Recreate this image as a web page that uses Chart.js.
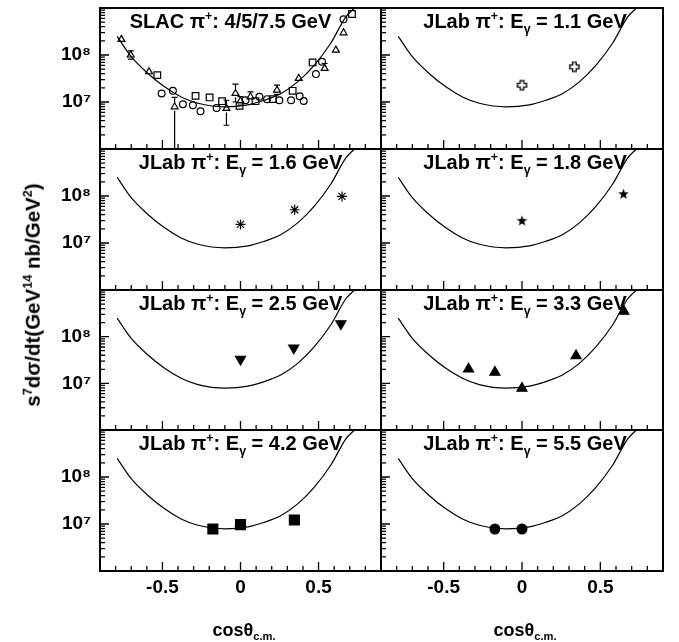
<!DOCTYPE html>
<html><head><meta charset="utf-8">
<script src="https://cdn.jsdelivr.net/npm/chart.js@4"></script>
<style>
body{margin:0;background:#fff;}
#wrap{position:relative;width:679px;height:642px;overflow:hidden;font-family:"Liberation Sans",Arial,sans-serif;font-weight:bold;color:#000;}
#wrap canvas{position:absolute;left:0;top:0;}
.t{position:absolute;white-space:nowrap;line-height:1;}
.sup{font-size:0.62em;position:relative;top:-0.62em;}
.sub{font-size:0.62em;position:relative;top:0.4em;}
</style></head><body><div id="wrap"></div>
<script>
// ---------- axes ----------
const xRange = [-0.9, 0.9];
const yRange = [1e6, 1e9];
const xTickLabels = [-0.5, 0, 0.5];
const xMinorTicks = [-0.8,-0.7,-0.6,-0.4,-0.3,-0.2,-0.1,0.1,0.2,0.3,0.4,0.6,0.7,0.8];
const yTickLabels = [1e7, 1e8];
const yMajorTicks = [1e6, 1e7, 1e8, 1e9];
const yMinorTicks = [2e6,3e6,4e6,5e6,6e6,7e6,8e6,9e6,2e7,3e7,4e7,5e7,6e7,7e7,8e7,9e7,2e8,3e8,4e8,5e8,6e8,7e8,8e8,9e8];

// ---------- fit curve ----------
const curveX = [-0.79, -0.70, -0.593, -0.486, -0.38, -0.273, -0.10, 0.047, 0.153, 0.26, 0.366, 0.473, 0.579, 0.675, 0.73];
const curveY = [2.5e8, 9.2e7, 4.05e7, 2.1e7, 1.28e7, 9.4e6, 7.9e6, 8.7e6, 1.09e7, 1.52e7, 2.68e7, 6.1e7, 1.8e8, 6.5e8, 1.0e9];

// ---------- SLAC data ----------
const slacTriX = [-0.763, -0.703, -0.586, -0.422, -0.09, -0.032, 0.0, 0.064, 0.234, 0.373, 0.539, 0.611, 0.66];
const slacTriY = [2.15e8, 1.0e8, 4.4e7, 7.9e6, 7.3e6, 1.52e7, 1.05e7, 1.29e7, 1.79e7, 3.17e7, 5.2e7, 1.27e8, 2.97e8];
const slacTriErrLo = [1.9e8, 8.2e7, 3.8e7, 9e5, 3.2e6, 1.0e7, 8.6e6, 1.07e7, 1.45e7, null, 4.4e7, null, null];
const slacTriErrHi = [2.45e8, 1.22e8, 5.1e7, 1.25e7, 1.09e7, 2.4e7, 1.3e7, 1.64e7, 2.28e7, null, 6.6e7, null, null];
const slacSqX = [-0.533, -0.288, -0.198, -0.118, -0.006, 0.096, 0.207, 0.334, 0.462, 0.714];
const slacSqY = [3.73e7, 1.35e7, 1.25e7, 1.04e7, 8.3e6, 1.04e7, 1.15e7, 1.73e7, 6.95e7, 7.45e8];
const slacCircX = [-0.505, -0.433, -0.369, -0.305, -0.256, -0.153, 0.032, 0.121, 0.17, 0.249, 0.324, 0.379, 0.405, 0.483, 0.522, 0.66];
const slacCircY = [1.52e7, 1.73e7, 8.97e6, 8.55e6, 6.37e6, 7.48e6, 1.09e7, 1.29e7, 1.15e7, 1.09e7, 1.09e7, 1.33e7, 1.05e7, 3.92e7, 7.16e7, 5.74e8];

// ---------- JLab data ----------
const jlabEnergies = ['1.1', '1.6', '1.8', '2.5', '3.3', '4.2', '5.5'];
const e11X = [0.0, 0.334];            const e11Y = [2.28e7, 5.6e7];
const e16X = [0.0, 0.347, 0.65];      const e16Y = [2.49e7, 5.1e7, 9.8e7];
const e18X = [0.0, 0.648];            const e18Y = [3.03e7, 1.12e8];
const e25X = [0.0, 0.341, 0.643];     const e25Y = [3.3e7, 5.74e7, 1.9e8];
const e33X = [-0.341, -0.173, 0.0, 0.345, 0.65]; const e33Y = [2.02e7, 1.72e7, 7.8e6, 3.88e7, 3.5e8];
const e42X = [-0.177, 0.0, 0.345];    const e42Y = [7.83e6, 9.7e6, 1.22e7];
const e55X = [-0.173, 0.0];           const e55Y = [7.83e6, 7.83e6];

// ---------- layout ----------
const colEdges = [100, 381, 663];
const rowEdges = [8, 149, 290, 430, 571];
const Y_AXIS_W = 95, X_AXIS_H = 60;
const FONT = '"Liberation Sans", Arial, sans-serif';

// custom marker images
function openCross(){
  const c = document.createElement('canvas'); c.width = 13; c.height = 13;
  const g = c.getContext('2d'); const m = 6.5, a = 1.8, L = 4.6;
  g.beginPath();
  g.moveTo(m-a, m-L); g.lineTo(m+a, m-L); g.lineTo(m+a, m-a); g.lineTo(m+L, m-a); g.lineTo(m+L, m+a);
  g.lineTo(m+a, m+a); g.lineTo(m+a, m+L); g.lineTo(m-a, m+L); g.lineTo(m-a, m+a); g.lineTo(m-L, m+a);
  g.lineTo(m-L, m-a); g.lineTo(m-a, m-a); g.closePath();
  g.fillStyle = '#fff'; g.fill(); g.lineWidth = 1.3; g.strokeStyle = '#000'; g.stroke();
  return c;
}
function filledStar(){
  const c = document.createElement('canvas'); c.width = 13; c.height = 13;
  const g = c.getContext('2d'); const m = 6.5, R = 5.6, r = 2.3;
  g.beginPath();
  for (let i = 0; i < 10; i++) {
    const ang = -Math.PI/2 + i*Math.PI/5, rr = i % 2 ? r : R;
    const px = m + rr*Math.cos(ang), py = m + 0.6 + rr*Math.sin(ang);
    i ? g.lineTo(px, py) : g.moveTo(px, py);
  }
  g.closePath(); g.fillStyle = '#000'; g.fill();
  return c;
}

const sup = s => '<span class="sup">' + s + '</span>';
const sub = s => '<span class="sub">' + s + '</span>';

const panels = [
  {title: 'SLAC π' + sup('+') + ': 4/5/7.5 GeV', dx: -10, series: [
    {x: slacTriX, y: slacTriY, style: 'triangle', r: 4, fill: false, errLo: slacTriErrLo, errHi: slacTriErrHi},
    {x: slacSqX, y: slacSqY, style: 'rect', r: 4.7, fill: false},
    {x: slacCircX, y: slacCircY, style: 'circle', r: 3.4, fill: false}]},
  {series: [{x: e11X, y: e11Y, style: openCross(), r: 5, fill: false}]},
  {series: [{x: e16X, y: e16Y, style: 'star', r: 5, fill: false}]},
  {series: [{x: e18X, y: e18Y, style: filledStar(), r: 5, fill: true}]},
  {series: [{x: e25X, y: e25Y, style: 'triangle', r: 5.8, fill: true, rot: 180}]},
  {series: [{x: e33X, y: e33Y, style: 'triangle', r: 5.8, fill: true}]},
  {series: [{x: e42X, y: e42Y, style: 'rect', r: 7, fill: true}]},
  {series: [{x: e55X, y: e55Y, style: 'circle', r: 4.9, fill: true}]}
];
panels.forEach((p, i) => { if (i > 0) p.title = 'JLab π' + sup('+') + ': E' + sub('γ') + ' = ' + jlabEnergies[i-1] + ' GeV'; });

const frameTicks = {
  id: 'frameTicks',
  afterDraw(chart) {
    const {ctx, chartArea: a, scales: {x, y}} = chart;
    ctx.save();
    ctx.strokeStyle = '#000'; ctx.lineWidth = 1.3;
    ctx.beginPath();
    xTickLabels.forEach(v => { const px = x.getPixelForValue(v); ctx.moveTo(px, a.bottom); ctx.lineTo(px, a.bottom - 9); });
    xMinorTicks.forEach(v => { const px = x.getPixelForValue(v); ctx.moveTo(px, a.bottom); ctx.lineTo(px, a.bottom - 5); });
    yMajorTicks.forEach(v => { const py = y.getPixelForValue(v); ctx.moveTo(a.left, py); ctx.lineTo(a.left + 9, py); });
    yMinorTicks.forEach(v => { const py = y.getPixelForValue(v); ctx.moveTo(a.left, py); ctx.lineTo(a.left + 5, py); });
    ctx.stroke();
    ctx.lineWidth = 2;
    ctx.strokeRect(a.left, a.top, a.right - a.left, a.bottom - a.top);
    ctx.restore();
  }
};
const errBars = {
  id: 'errBars',
  afterDatasetsDraw(chart) {
    const {ctx, chartArea: a, scales: {x, y}} = chart;
    ctx.save();
    ctx.beginPath(); ctx.rect(a.left, a.top, a.right - a.left, a.bottom - a.top); ctx.clip();
    ctx.beginPath();
    chart.data.datasets.forEach(ds => {
      if (!ds.errLo) return;
      ds.data.forEach((p, i) => {
        const lo = ds.errLo[i], hi = ds.errHi[i];
        if (lo == null) return;
        const px = x.getPixelForValue(p.x), yp = y.getPixelForValue(p.y);
        const yl = y.getPixelForValue(lo), yh = y.getPixelForValue(hi), r = ds.pointRadius;
        if (yh < yp - r) { ctx.moveTo(px, yh); ctx.lineTo(px, yp - r); ctx.moveTo(px - 3, yh); ctx.lineTo(px + 3, yh); }
        if (yl > yp + r) { ctx.moveTo(px, yp + r); ctx.lineTo(px, yl); ctx.moveTo(px - 3, yl); ctx.lineTo(px + 3, yl); }
      });
    });
    ctx.lineWidth = 1.2; ctx.strokeStyle = '#000'; ctx.stroke();
    ctx.restore();
  }
};

const wrap = document.getElementById('wrap');
const supDigits = {'6': '⁶', '7': '⁷', '8': '⁸', '9': '⁹'};
const noPad = s => { s.paddingTop = 0; s.paddingBottom = 0; s.paddingLeft = 0; s.paddingRight = 0; };

panels.forEach((p, i) => {
  const col = i % 2, row = Math.floor(i / 2);
  const L = colEdges[col], R = colEdges[col + 1], T = rowEdges[row], B = rowEdges[row + 1];
  const cv = document.createElement('canvas');
  cv.width = 679; cv.height = 642;
  wrap.appendChild(cv);
  const datasets = p.series.map(s => ({
    type: 'scatter',
    data: s.x.map((v, k) => ({x: v, y: s.y[k]})),
    pointStyle: s.style, pointRadius: s.r, pointRotation: s.rot || 0,
    borderColor: '#000', borderWidth: 1.2,
    backgroundColor: s.fill ? '#000' : 'rgba(0,0,0,0)',
    errLo: s.errLo, errHi: s.errHi
  }));
  datasets.push({
    type: 'line',
    data: curveX.map((v, k) => ({x: v, y: curveY[k]})),
    borderColor: '#000', borderWidth: 1.2, pointRadius: 0, fill: false,
    cubicInterpolationMode: 'monotone'
  });
  new Chart(cv, {
    data: {datasets},
    options: {
      responsive: false, animation: false, events: [],
      layout: {autoPadding: false, padding: {left: L - Y_AXIS_W, right: 679 - R, top: T, bottom: 642 - B - X_AXIS_H}},
      plugins: {legend: {display: false}, tooltip: {enabled: false}, title: {display: false}},
      scales: {
        x: {
          type: 'linear', min: xRange[0], max: xRange[1], position: 'bottom',
          grid: {display: false, drawTicks: false}, border: {display: false},
          afterBuildTicks: s => { s.ticks = xTickLabels.map(v => ({value: v})); },
          afterFit: s => { s.height = X_AXIS_H; noPad(s); },
          ticks: {display: row === 3, autoSkip: false, maxRotation: 0, padding: 5, color: '#000',
                  font: {family: FONT, size: 19, weight: 'bold'},
                  callback: v => String(v)}
        },
        y: {
          type: 'logarithmic', min: yRange[0], max: yRange[1], position: 'left',
          grid: {display: false, drawTicks: false}, border: {display: false},
          afterBuildTicks: s => { s.ticks = yTickLabels.map(v => ({value: v})); },
          afterFit: s => { s.width = Y_AXIS_W; noPad(s); },
          ticks: {display: col === 0, autoSkip: false, padding: 9, color: '#000',
                  font: {family: FONT, size: 19, weight: 'bold'},
                  callback: v => '10' + supDigits[String(Math.round(Math.log10(v)))]}
        }
      }
    },
    plugins: [errBars, frameTicks]
  });
  // panel title
  const fs = 20;
  const t = document.createElement('div');
  t.className = 't';
  t.style.fontSize = fs + 'px';
  t.innerHTML = p.title;
  wrap.appendChild(t);
  const cx = (L + R) / 2 + (p.dx || (col ? 3 : 0));
  t.style.left = cx + 'px';
  t.style.top = (T + 20 - 0.8465 * fs) + 'px';
  t.style.transform = 'translateX(-50%)';
});

// axis titles
const ytitle = document.createElement('div');
ytitle.className = 't';
ytitle.style.fontSize = '20.5px';
ytitle.innerHTML = 's' + sup('7') + 'dσ/dt(GeV' + sup('14') + ' nb/GeV' + sup('2') + ')';
ytitle.style.left = '33px'; ytitle.style.top = '294.5px';
ytitle.style.transform = 'translate(-50%,-50%) rotate(-90deg)';
wrap.appendChild(ytitle);
[244, 525].forEach(cx => {
  const d = document.createElement('div');
  d.className = 't';
  d.style.fontSize = '18px';
  d.innerHTML = 'cosθ' + sub('c.m.');
  d.style.left = cx + 'px';
  d.style.top = (636 - 0.8465 * 18) + 'px';
  d.style.transform = 'translateX(-50%)';
  wrap.appendChild(d);
});
</script></body></html>
